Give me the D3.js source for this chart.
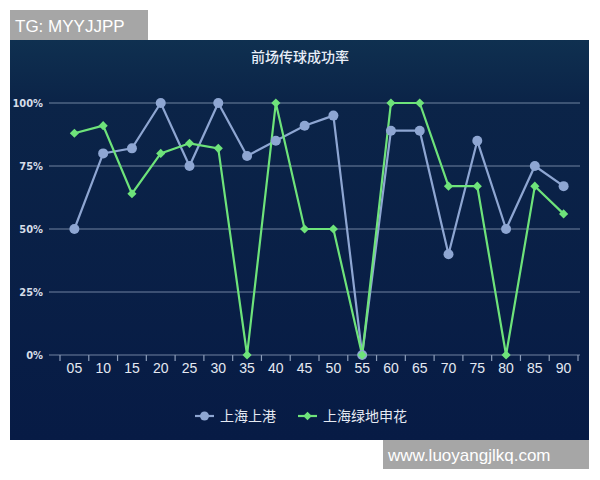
<!DOCTYPE html>
<html><head><meta charset="utf-8">
<script src="https://cdn.jsdelivr.net/npm/d3@7/dist/d3.min.js"></script>
<style>body{margin:0;background:#fff;}svg{display:block;}</style>
</head><body>
<svg id="c" width="600" height="480"></svg>
<script>
const categories = ["05","10","15","20","25","30","35","40","45","50","55","60","65","70","75","80","85","90"];
const seriesNames = ["上海上港","上海绿地申花"];
const shanggang = [50,80,82,100,75,100,79,85,91,95,0,89,89,40,85,50,75,67];
const shenhua = [88,91,64,80,84,82,0,100,50,50,0,100,100,67,67,0,67,56];
const yTicks = [0,25,50,75,100];
const title = "前场传球成功率";

const svg = d3.select("#c");
const defs = svg.append("defs");
const g1 = defs.append("linearGradient").attr("id","bg").attr("x1",0).attr("y1",0).attr("x2",0).attr("y2",1);
g1.append("stop").attr("offset","0%").attr("stop-color","#0f3050");
g1.append("stop").attr("offset","15%").attr("stop-color","#0b2448");
g1.append("stop").attr("offset","100%").attr("stop-color","#071b45");

svg.append("rect").attr("x",10).attr("y",40).attr("width",579).attr("height",400).attr("fill","url(#bg)");

// watermark boxes
svg.append("rect").attr("x",10).attr("y",10).attr("width",138).attr("height",30).attr("fill","#a6a6a6");
svg.append("text").attr("x",15).attr("y",32).attr("fill","#fff").attr("font-family","Liberation Sans, Arial").attr("font-size",17).text("TG: MYYJJPP");
svg.append("rect").attr("x",383).attr("y",440).attr("width",206).attr("height",29).attr("fill","#a6a6a6");
svg.append("text").attr("x",388).attr("y",461).attr("fill","#fff").attr("font-family","Liberation Sans, Arial").attr("font-size",17).text("www.luoyangjlkq.com");

svg.append("text").attr("x",300).attr("y",62).attr("text-anchor","middle").attr("fill","#e8eef8")
  .attr("font-family","Noto Sans CJK SC").attr("font-size",14).attr("font-weight",500).text(title);

const x = d3.scaleBand().domain(categories).range([60,578]);
const y = d3.scaleLinear().domain([0,100]).range([355,103]);

// grid
svg.append("g").selectAll("line").data(yTicks).join("line")
  .attr("x1",49).attr("x2",580).attr("y1",d=>y(d)).attr("y2",d=>y(d))
  .attr("stroke","#8a9bb8").attr("stroke-width",1.2).attr("opacity",0.8);

// y labels
svg.append("g").selectAll("text").data(yTicks).join("text")
  .attr("x",43).attr("y",d=>y(d)+4).attr("text-anchor","end").attr("fill","#d6dde8")
  .attr("font-family","DejaVu Sans Condensed, DejaVu Sans").attr("font-size",11).attr("font-weight","bold").text(d=>d+"%");

// x axis
const xAxis = d3.axisBottom(x).tickSize(0).tickSizeOuter(0);
const ax = svg.append("g").attr("transform","translate(0,355)").call(xAxis);
ax.select(".domain").remove();
ax.selectAll("text").attr("fill","#e4e9f2").attr("font-family","Liberation Sans, Arial").attr("font-size",14).attr("dy","1.1em");
// band boundary ticks
const bounds = categories.map(c=>x(c)).concat([x(categories[categories.length-1])+x.bandwidth()]);
svg.append("g").selectAll("line").data(bounds).join("line")
  .attr("x1",d=>d).attr("x2",d=>d).attr("y1",355).attr("y2",361)
  .attr("stroke","#8a9bb8").attr("stroke-width",1.2);

const cx = c => x(c)+x.bandwidth()/2;
const line = d3.line().x((d,i)=>cx(categories[i])).y(d=>y(d));

const blue = "#8ea6d2", green = "#6ee37a";
svg.append("path").datum(shanggang).attr("d",line).attr("fill","none").attr("stroke",blue).attr("stroke-width",2.2);
svg.append("path").datum(shenhua).attr("d",line).attr("fill","none").attr("stroke",green).attr("stroke-width",2.2);

svg.append("g").selectAll("circle").data(shanggang).join("circle")
  .attr("cx",(d,i)=>cx(categories[i])).attr("cy",d=>y(d)).attr("r",5).attr("fill",blue);
const diamond = d3.symbol().type(d3.symbolSquare).size(42);
svg.append("g").selectAll("path").data(shenhua).join("path")
  .attr("transform",(d,i)=>`translate(${cx(categories[i])},${y(d)}) rotate(45)`).attr("d",diamond).attr("fill",green);

// legend
const leg = [{n:seriesNames[0],c:blue,x:195,t:"c"},{n:seriesNames[1],c:green,x:298,t:"d"}];
leg.forEach(l=>{
  svg.append("line").attr("x1",l.x).attr("x2",l.x+19).attr("y1",416).attr("y2",416).attr("stroke",l.c).attr("stroke-width",2.2);
  if(l.t==="c") svg.append("circle").attr("cx",l.x+9.5).attr("cy",416).attr("r",4.5).attr("fill",l.c);
  else svg.append("path").attr("transform",`translate(${l.x+9.5},416) rotate(45)`).attr("d",d3.symbol().type(d3.symbolSquare).size(36)()).attr("fill",l.c);
  svg.append("text").attr("x",l.x+25).attr("y",421).attr("fill","#e4e9f2").attr("font-family","Noto Sans CJK SC").attr("font-size",14).text(l.n);
});
</script>
</body></html>
